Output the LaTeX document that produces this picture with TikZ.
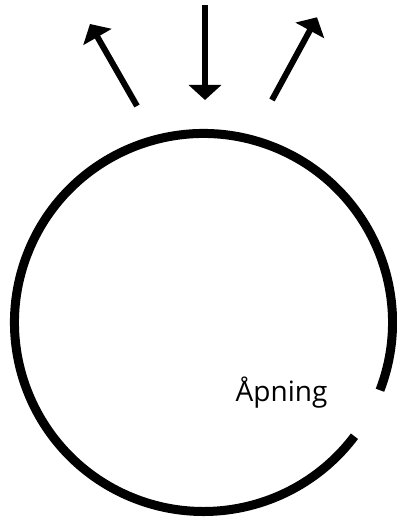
\documentclass[tikz,border=0pt]{standalone}
\usepackage{fontspec}
\setmainfont{Open Sans}
\usetikzlibrary{arrows.meta}
\begin{document}
\begin{tikzpicture}[x=1pt,y=1pt,
  ray/.style={line width=6pt,-{Triangle[length=15pt,width=32pt]}},
  rim/.style={line width=9pt}]
  \useasboundingbox (0,0) rectangle (396,518);
  \coordinate (c) at (203.5,195.5);
  \draw[rim] (c) ++(-21:189) arc[start angle=-21,end angle=323,radius=189];
  \node[font=\fontsize{28}{30}\selectfont,anchor=base,inner sep=0pt] (gap) at (281.5,116.3) {Åpning};
  \coordinate (inA) at (205,513);
  \coordinate (inB) at (205,418);
  \coordinate (outLa) at (137,412);
  \coordinate (outLb) at (90,494);
  \coordinate (outRa) at (272,418);
  \coordinate (outRb) at (317,500.7);
  \draw[ray] (inA) -- (inB);
  \draw[ray] (outLa) -- (outLb);
  \draw[ray] (outRa) -- (outRb);
\end{tikzpicture}
\end{document}
